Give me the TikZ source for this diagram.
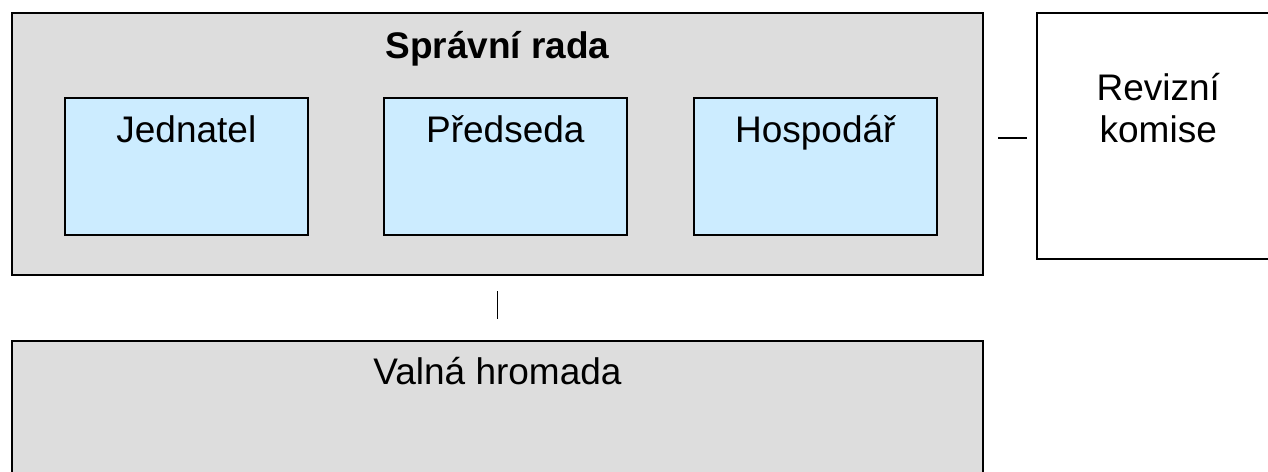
\documentclass[tikz,border=0pt]{standalone}
\usepackage{fontspec}
\setmainfont{Liberation Sans}
\usepackage{tikz}
\usetikzlibrary{positioning}
\definecolor{boxgray}{RGB}{221,221,221}
\definecolor{boxblue}{RGB}{204,236,255}

\begin{document}
\begin{tikzpicture}[x=1pt, y=-1pt,
        body/.style={draw=black, line width=2pt, fill=boxgray, anchor=north west, inner sep=0pt},
        member/.style={draw=black, line width=1.6pt, fill=boxblue, anchor=north west, inner sep=0pt,
            minimum width=243pt, minimum height=137pt},
        title/.style={inner sep=0pt, font=\fontsize{37}{42}\selectfont}]
        \useasboundingbox (0,0) rectangle (1268,471);

        % Spravni rada
        \node[body, minimum width=971pt, minimum height=262pt] (sr) at (11,12) {};
        \node[title, font=\bfseries\fontsize{37}{42}\selectfont, below=46pt of sr.north, anchor=base] (srt) {Správní rada};

        \node[member] (jed) at (64,97) {};
        \node[member] (pre) at (383,97) {};
        \node[member] (hos) at (693,97) {};
        \node[title, below=45pt of jed.north, anchor=base] (jedt) {Jednatel};
        \node[title, below=45pt of pre.north, anchor=base] (pret) {Předseda};
        \node[title, below=45pt of hos.north, anchor=base] (host) {Hospodář};

        % Revizni komise
        \node[draw=black, line width=1.5pt, fill=white, anchor=north west, inner sep=0pt,
            minimum width=243pt, minimum height=246pt] (rk) at (1036,12) {};
        \node[title, align=center, below=130pt of rk.north, anchor=base] (rkt) {Revizní\\komise};

        % Valna hromada
        \node[body, minimum width=971pt, minimum height=200pt] (vh) at (11,340) {};
        \node[title, below=44pt of vh.north, anchor=base] (vht) {Valná hromada};

        % sr -- rk
        \draw[line width=1.5pt, shorten <=14pt, shorten >=9pt] (sr.east |- 0,138) -- (rk.west |- 0,138);

        % sr -- vh
        \draw[line width=1.5pt, shorten <=15pt, shorten >=21pt] (sr.south) -- (vh.north);
    \end{tikzpicture}
\end{document}
